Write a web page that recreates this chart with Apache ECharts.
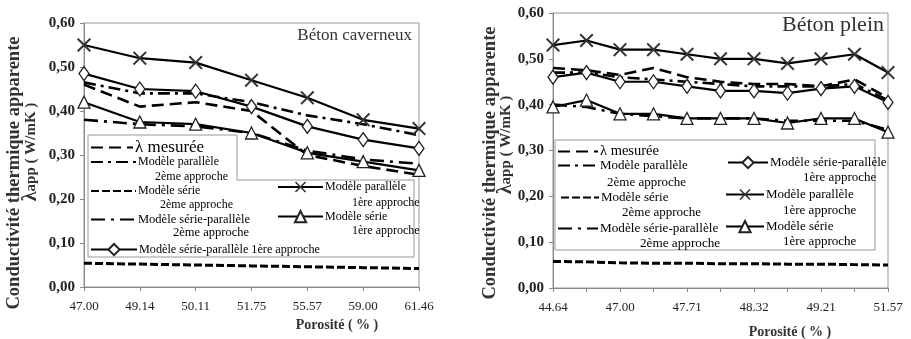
<!DOCTYPE html>
<html><head><meta charset="utf-8">
<script src="https://cdn.jsdelivr.net/npm/echarts@6/dist/echarts.min.js"></script>
<style>html,body{margin:0;padding:0;background:#fff;width:911px;height:339px;overflow:hidden}
#c1{position:absolute;left:0;top:0;width:460px;height:339px}
#c2{position:absolute;left:460px;top:0;width:451px;height:339px}</style>
</head><body><div id="c1"></div><div id="c2"></div>
<script>
// ---------- DATA ----------
const leftCats = ['47.00','49.14','50.11','51.75','55.57','59.00','61.46'];
const leftMesuree = [0.46,0.41,0.42,0.40,0.30,0.275,0.255];
const leftPar2 = [0.465,0.44,0.44,0.42,0.39,0.37,0.345];
const leftSerie2 = [0.054,0.052,0.050,0.048,0.046,0.044,0.042];
const leftSP2 = [0.38,0.37,0.365,0.35,0.31,0.29,0.28];
const leftSP1 = [0.485,0.45,0.445,0.41,0.365,0.335,0.315];
const leftPar1 = [0.55,0.52,0.51,0.47,0.43,0.38,0.36];
const leftSerie1 = [0.42,0.375,0.37,0.35,0.305,0.285,0.265];

const rightCats = ['44.64','45.80','47.00','47.35','47.71','48.05','48.32','48.75','49.21','50.40','51.57'];
const rightMesuree = [0.48,0.475,0.465,0.48,0.46,0.45,0.445,0.445,0.44,0.455,0.415];
const rightPar2 = [0.47,0.47,0.46,0.455,0.45,0.445,0.44,0.44,0.44,0.445,0.41];
const rightSerie2 = [0.058,0.057,0.055,0.054,0.054,0.053,0.053,0.052,0.052,0.051,0.050];
const rightSP2 = [0.40,0.395,0.38,0.375,0.37,0.37,0.37,0.365,0.365,0.365,0.345];
const rightSP1 = [0.46,0.47,0.45,0.45,0.44,0.43,0.43,0.425,0.435,0.44,0.405];
const rightPar1 = [0.53,0.54,0.52,0.52,0.51,0.50,0.50,0.49,0.50,0.51,0.47];
const rightSerie1 = [0.395,0.41,0.38,0.38,0.37,0.37,0.37,0.36,0.37,0.37,0.34];

const yTicks = [0,0.1,0.2,0.3,0.4,0.5,0.6];

// ---------- STYLE ----------
const SERIF = '"Liberation Serif","DejaVu Serif",serif';
const XPATH = 'path://M0,1L1,0L5,4L9,0L10,1L6,5L10,9L9,10L5,6L1,10L0,9L4,5Z';
const styles = {
  mes:  {lineStyle:{type:[12,6],width:2.6}},
  par2: {lineStyle:{type:[12,5,3,5],width:2.6}},
  ser2: {lineStyle:{type:[8,3],width:3}},
  sp2:  {lineStyle:{type:[14,6,3,6],width:2.6}},
  sp1:  {lineStyle:{type:'solid',width:2.2}, symbol:'diamond', symbolSize:[10,14], itemStyle:{color:'#fff',borderColor:'#222',borderWidth:1.3}},
  par1: {lineStyle:{type:'solid',width:2.2}, symbol:XPATH, symbolSize:14, itemStyle:{color:'#333',borderWidth:0}},
  ser1: {lineStyle:{type:'solid',width:2.2}, symbol:'triangle', symbolSize:[12,12], itemStyle:{color:'#fff',borderColor:'#222',borderWidth:1.3}}
};
function mk(name, key, data){
  const s = styles[key];
  const has = !!s.symbol;
  return {type:'line', name:name, data:data, animation:false,
    showSymbol:has, symbol: has ? s.symbol : 'circle', symbolSize: s.symbolSize || 6,
    z: has ? 3 : 2,
    lineStyle:Object.assign({color:'#000'}, s.lineStyle),
    itemStyle: has ? s.itemStyle : {color:'rgba(0,0,0,0)', borderWidth:0}};
}
function legend(name, x, yc, w, fs){
  return {data:[name], left:x, top:yc-7, padding:0, itemWidth:w, itemHeight:14, itemGap:0,
    textStyle:{fontFamily:SERIF, fontSize:fs, color:'#000', padding:[0,0,0,-3]}, selectedMode:false,
    formatter: function(n){ return n.split('|')[0]; }};
}
function txt(s, x, y, fs, opt){
  return Object.assign({type:'text', x:x, y:y, z:10, style:Object.assign({text:s, fill:'#000', font:fs+'px '+SERIF, textVerticalAlign:'middle'}, opt||{})});
}
function axes(cats, labelInterval){
  return {
    xAxis:{type:'category', data:cats, boundaryGap:false,
      axisLine:{lineStyle:{color:'#888',width:1}},
      axisTick:{show:true, interval:0, length:4, lineStyle:{color:'#888'}},
      axisLabel:{interval:labelInterval, fontFamily:SERIF, fontSize:13, color:'#222', margin:13}},
    yAxis:{type:'value', min:yTicks[0], max:yTicks[yTicks.length-1], interval:0.1, splitLine:{show:false},
      axisLine:{show:true, lineStyle:{color:'#888',width:1}},
      axisTick:{show:true, length:4, lineStyle:{color:'#888'}},
      axisLabel:{fontFamily:SERIF, fontSize:15, fontWeight:'bold', color:'#222', margin:9,
        formatter:v=>v.toFixed(2).replace('.',',')}}
  };
}
function yname(x1, y1, x2, y2){
  return [
    Object.assign(txt('Conductivité thermique apparente', x1, y1, 18.5, {textAlign:'center', font:'bold 18.5px '+SERIF, fill:'#333'}), {rotation:Math.PI/2}),
    Object.assign({type:'text', x:x2, y:y2, z:10, rotation:Math.PI/2, style:{text:'{l|λ}app ( W/mK )', textAlign:'center', textVerticalAlign:'middle', fill:'#333', font:'bold 15px '+SERIF,
      rich:{l:{fontSize:20, fontWeight:'bold', fontFamily:SERIF, fill:'#333'}}}})
  ];
}

// ---------- LEFT CHART ----------
const N = {
  mes:'λ mesurée', par2:'Modèle parallèle|2ème approche', ser2:'Modèle série|2ème approche', sp2:'Modèle série-parallèle|2ème approche',
  sp1L:'Modèle série-parallèle 1ère approche', sp1:'Modèle série-parallèle|1ère approche', par1:'Modèle parallèle|1ère approche', ser1:'Modèle série|1ère approche'
};
const c1 = echarts.init(document.getElementById('c1'));
const a1 = axes(leftCats, 0);
c1.setOption({
  animation:false,
  grid:{left:84, right:41, top:23, bottom:52, show:true, borderColor:'#999', borderWidth:1},
  xAxis:a1.xAxis, yAxis:a1.yAxis,
  legend:[
    legend(N.mes, 90, 146, 42, 17),
    legend(N.par2, 90, 163, 45, 12),
    legend(N.ser2, 90, 192, 45, 12),
    legend(N.sp2, 90, 220, 45, 12.5),
    legend(N.sp1L, 90, 250, 46, 12.2),
    legend(N.par1, 277, 188, 45, 12),
    legend(N.ser1, 277, 217, 45, 12)
  ],
  series:[
    mk(N.mes,'mes',leftMesuree), mk(N.par2,'par2',leftPar2), mk(N.ser2,'ser2',leftSerie2), mk(N.sp2,'sp2',leftSP2),
    mk(N.sp1L,'sp1',leftSP1), mk(N.par1,'par1',leftPar1), mk(N.ser1,'ser1',leftSerie1)
  ],
  graphic:[
    {type:'polygon', z:1, shape:{points:[[88,135],[237,135],[237,180],[414,180],[414,257],[88,257]]}, style:{fill:'none', stroke:'#999', lineWidth:1}},
    txt('2ème approche', 155, 177, 12),
    txt('2ème approche', 160, 205, 12),
    txt('2ème approche', 173, 233, 12.5),
    txt('1ère approche', 352, 203, 12),
    txt('1ère approche', 352, 231, 12),
    txt('Béton caverneux', 412, 36, 17, {textAlign:'right', fill:'#333'}),
    txt('Porosité ( % )', 337, 325, 14, {textAlign:'center', font:'bold 14px '+SERIF, fill:'#333'}),
    ...yname(14, 173, 31, 152)
  ]
});

// ---------- RIGHT CHART ----------
const c2 = echarts.init(document.getElementById('c2'));
const a2 = axes(rightCats, 1);
c2.setOption({
  animation:false,
  grid:{left:93, right:23, top:13, bottom:51, show:true, borderColor:'#999', borderWidth:1},
  xAxis:a2.xAxis, yAxis:a2.yAxis,
  legend:[
    legend(N.mes, 97, 151, 40, 14.5),
    legend(N.par2, 97, 166, 40, 13),
    legend(N.ser2, 100, 198, 38, 13),
    legend(N.sp2, 97, 229, 40, 13.2),
    legend(N.sp1, 267, 163, 40, 13),
    legend(N.par1, 265, 195, 38, 13),
    legend(N.ser1, 265, 227, 38, 13)
  ],
  series:[
    mk(N.mes,'mes',rightMesuree), mk(N.par2,'par2',rightPar2), mk(N.ser2,'ser2',rightSerie2), mk(N.sp2,'sp2',rightSP2),
    mk(N.sp1,'sp1',rightSP1), mk(N.par1,'par1',rightPar1), mk(N.ser1,'ser1',rightSerie1)
  ],
  graphic:[
    {type:'rect', z:1, shape:{x:95, y:140, width:320, height:110}, style:{fill:'none', stroke:'#999', lineWidth:1}},
    txt('2ème approche', 147, 183, 13),
    txt('2ème approche', 162, 213, 13),
    txt('2ème approche', 180, 244, 13.2),
    txt('1ère approche', 343, 178, 13),
    txt('1ère approche', 323, 211, 13),
    txt('1ère approche', 323, 242, 13),
    txt('Béton plein', 424, 25, 22, {textAlign:'right', fill:'#333'}),
    txt('Porosité ( % )', 330, 332, 14, {textAlign:'center', font:'bold 14px '+SERIF, fill:'#333'}),
    ...yname(30, 163, 46, 145)
  ]
});
</script></body></html>
